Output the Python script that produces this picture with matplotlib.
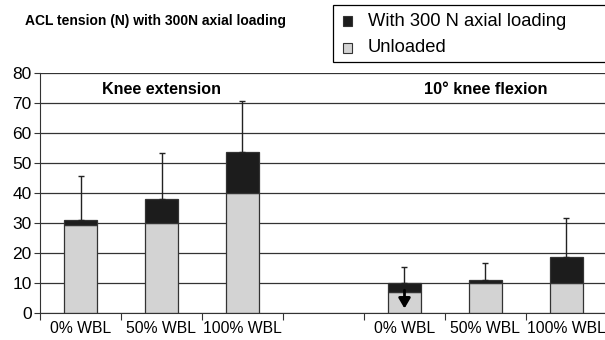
import matplotlib
matplotlib.use("Agg")
import matplotlib.pyplot as plt
from matplotlib.patches import Rectangle
from matplotlib import font_manager
import numpy as np

plt.rcParams['font.family'] = ['Liberation Sans', 'DejaVu Sans']

categories = ["0% WBL", "50% WBL", "100% WBL", "", "0% WBL", "50% WBL", "100% WBL"]
unloaded = [29.2, 30.1, 40.0, np.nan, 7.1, 9.9, 10.0]
loaded_total = [31.0, 38.0, 53.8, np.nan, 10.1, 10.9, 18.8]
error_top = [45.5, 53.3, 70.5, np.nan, 15.5, 16.7, 31.7]
yticks = [0, 10, 20, 30, 40, 50, 60, 70, 80]
legend_labels = ["With 300 N axial loading", "Unloaded"]

names = {f.name for f in font_manager.fontManager.ttflist}
if "Liberation Sans Narrow" in names:
    title_family, title_size = ["Liberation Sans Narrow", "DejaVu Sans"], 12.0
else:
    title_family, title_size = ["Liberation Sans", "DejaVu Sans"], 10.0

W, H = 605, 340
fig = plt.figure(figsize=(6.05, 3.4), dpi=100)
ax = fig.add_axes([40/W, 1-313/H, 1-40/W + 2/W, (313-73)/H])

x = np.arange(len(categories))
w = 0.41
gray = "#d3d3d3"
black = "#1c1c1c"
edge = "#333333"

for v in yticks:
    ax.axhline(v, color="#333333", lw=0.9, zorder=0)

for i in range(len(categories)):
    if np.isnan(unloaded[i]):
        continue
    ax.bar(x[i], unloaded[i], width=w, color=gray, edgecolor=edge, lw=0.9, zorder=2)
    ax.bar(x[i], loaded_total[i] - unloaded[i], bottom=unloaded[i], width=w,
           color=black, edgecolor=edge, lw=0.9, zorder=2)
    ax.errorbar(x[i], loaded_total[i], yerr=[[0], [error_top[i] - loaded_total[i]]],
                fmt="none", ecolor="#222222", elinewidth=1.0, capsize=2.5, capthick=1.0, zorder=3)

# downward arrow in 0% WBL flexion bar
ax.annotate("", xy=(4, 1.5), xytext=(4, 7.6),
            arrowprops=dict(arrowstyle="-|>,head_width=0.35,head_length=0.6",
                            color="black", lw=2.0, shrinkA=0, shrinkB=0), zorder=4)

ax.set_xlim(-0.5, len(categories) - 0.5)
ax.set_ylim(0, 80)
ax.set_yticks(yticks)
ax.set_xticks(np.arange(len(categories) + 1) - 0.5, minor=False)
ax.set_xticklabels([])
ax.set_xticks(x, minor=True)
ax.set_xticklabels(categories, minor=True)
ax.tick_params(axis="x", which="minor", length=0, labelsize=11.3, pad=6)
ax.tick_params(axis="x", which="major", length=5, direction="out", color="#333333")
ax.tick_params(axis="y", length=4, labelsize=12.5, color="#333333", pad=2)
for s in ["top", "right"]:
    ax.spines[s].set_visible(False)
ax.spines["left"].set_color("#333333")
ax.spines["bottom"].set_color("#333333")

ax.text(1, 74.5, "Knee extension", ha="center", va="center", fontsize=11.6, fontweight="bold")
ax.text(5, 74.5, "10° knee flexion", ha="center", va="center", fontsize=11.8, fontweight="bold")

fig.text(25/W, 1-21/H, "ACL tension (N) with 300N axial loading",
         ha="left", va="center", fontsize=title_size, fontweight="bold", family=title_family)

# legend box (extends past right edge like the reference)
fig.patches.append(Rectangle((333/W, 1-62/H), (W+5-333)/W, 57/H, transform=fig.transFigure,
                             facecolor="white", edgecolor="black", lw=0.9, zorder=5))
legend_colors = [black, gray]
legend_y = [21, 48]
for lab, col, yy in zip(legend_labels, legend_colors, legend_y):
    fig.patches.append(Rectangle((343/W, 1-(yy+4.5)/H), 9/W, 9/H, transform=fig.transFigure,
                                 facecolor=col, edgecolor=edge, lw=0.8, zorder=6))
    fig.text(368/W, 1-yy/H, lab, ha="left", va="center", fontsize=13.2, zorder=7)

fig.savefig("out.png", dpi=100)
